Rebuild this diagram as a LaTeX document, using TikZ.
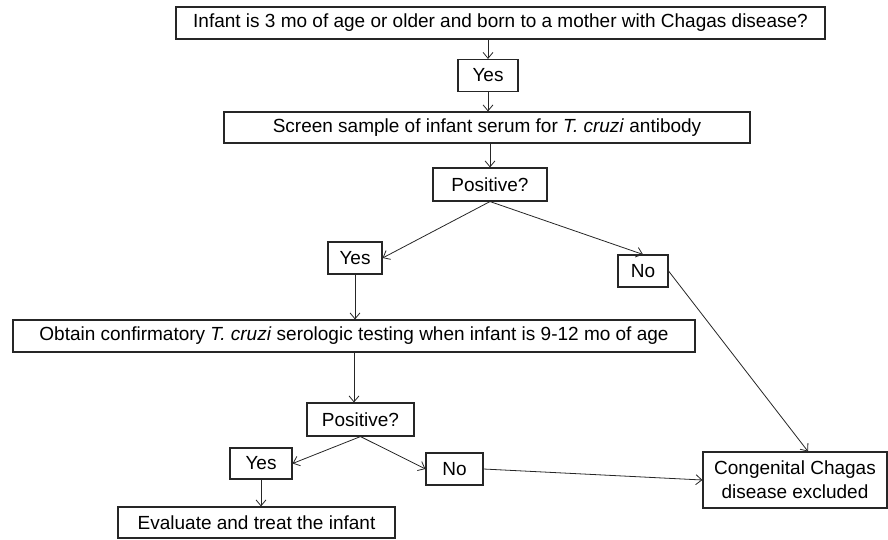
\documentclass[tikz,border=0pt]{standalone}
\usepackage{fontspec}
\setmainfont{Liberation Sans}
\usetikzlibrary{arrows.meta,positioning}

\begin{document}
\begin{tikzpicture}[
  x=1pt, y=-1pt,
  font=\fontsize{19}{24}\selectfont,
  >={Straight Barb[length=6pt,width=10pt]},
  box/.style={draw=black!85, line width=1.1pt, inner sep=0pt, align=center,
    minimum height=32pt},
  answer/.style={box, minimum height=32pt},
  flow/.style={->, draw=black!85, line width=0.8pt}
]
\useasboundingbox (0,0) rectangle (888,539);

% ---- first screening step ----
\node[box, minimum width=649pt] (infant) at (500.5,23)
  {Infant is 3 mo of age or older and born to a mother with Chagas disease?};
\node[answer, minimum width=60pt] (yesa) at (488,75.5) {Yes};
\node[box, minimum width=526pt, minimum height=31pt] (screen) at (487,127.5)
  {Screen sample of infant serum for \textit{T. cruzi} antibody};
\node[answer, minimum width=114pt, minimum height=33pt] (posa) at (490,184.5) {Positive?};
\node[answer, minimum width=54pt] (yesb) at (355,258) {Yes};
\node[answer, minimum width=50pt] (noa) at (643,271) {No};

% ---- confirmation at 9-12 months ----
\node[box, minimum width=682pt] (confirm) at (354,336)
  {Obtain confirmatory \textit{T. cruzi} serologic testing when infant is 9-12 mo of age};
\node[answer, minimum width=107pt, minimum height=33pt] (posb) at (360.5,419.5) {Positive?};
\node[answer, minimum width=62pt, minimum height=31pt] (yesc) at (261,463.5) {Yes};
\node[answer, minimum width=57pt] (nob) at (454.5,469) {No};
\node[box, minimum width=277pt, minimum height=31pt] (treat) at (256.5,522.5)
  {Evaluate and treat the infant};
\node[box, minimum width=184pt, minimum height=56pt] (excl) at (795,480)
  {Congenital Chagas\\disease excluded};

% ---- arrows ----
\draw[flow] (infant.south -| yesa.north) -- (yesa.north);
\draw[flow] (yesa.south) -- (yesa.south |- screen.north);
\draw[flow] (posa.north |- screen.south) -- (posa.north);
\draw[flow] (posa.south) -- (yesb.east);
\draw[flow] (posa.south) -- (noa.north);
\draw[flow] (yesb.south) -- (yesb.south |- confirm.north);
\draw[flow] (confirm.south) -- (confirm.south |- posb.north);
\draw[flow] (posb.south) -- (yesc.east);
\draw[flow] (posb.south) -- (nob.west);
\draw[flow] (yesc.south) -- (yesc.south |- treat.north);
\draw[flow] (nob.east) -- (excl.west);
\draw[flow] (noa.east) -- ([xshift=13pt]excl.north);

\end{tikzpicture}
\end{document}
